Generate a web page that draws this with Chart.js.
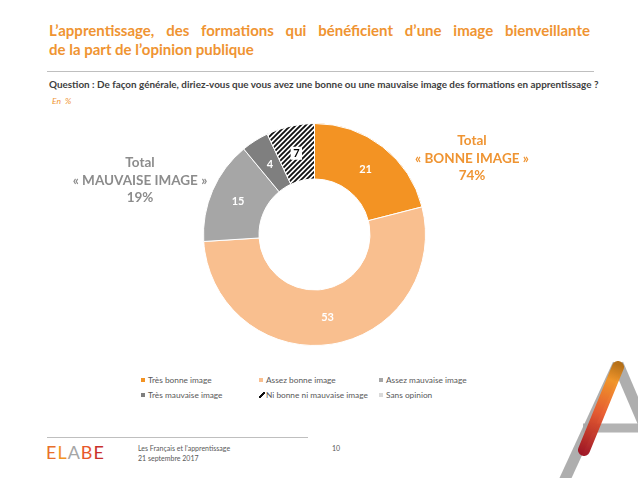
<!DOCTYPE html>
<html><head><meta charset="utf-8">
<script src="https://cdn.jsdelivr.net/npm/chart.js@4"></script>
<style>
html,body{margin:0;padding:0;background:#fff;}
body{width:638px;height:478px;position:relative;overflow:hidden;font-family:Lato,"Open Sans",sans-serif;}
.abs{position:absolute;white-space:nowrap;}
#t1{left:49px;top:21px;width:541px;font-weight:bold;color:#EF9432;font-size:15px;line-height:19px;text-align:justify;text-align-last:justify;}
#t2{left:49px;top:40px;font-weight:bold;color:#EF9432;font-size:15px;line-height:19px;}
#rule1{left:47px;top:71px;width:547px;height:1px;background:#BFBFBF;}
#q{left:49px;top:78px;font-weight:bold;color:#404040;font-size:9.9px;line-height:12px;}
#en{left:52px;top:95px;font-style:italic;color:#EF9432;font-size:8.5px;line-height:12px;}
#chart{position:absolute;left:203px;top:123px;}
.tot{position:absolute;text-align:center;font-weight:bold;font-size:13.5px;line-height:17.5px;white-space:nowrap;transform:translateX(-50%);}
#totM{left:140px;top:154px;color:#8C8C8C;}
#totB{left:472px;top:132px;color:#EF9432;}
.leg{position:absolute;font-size:8.3px;color:#595959;line-height:12px;white-space:nowrap;}
.mk{position:absolute;width:4px;height:4px;}
#rule2{left:47px;top:437px;width:261px;height:1px;background:#BFBFBF;}
.foot{position:absolute;font-size:7px;color:#595959;line-height:9px;white-space:nowrap;}
#logo{left:46px;top:443px;font-size:18px;line-height:18px;font-weight:400;letter-spacing:1px;}
</style></head>
<body>
<div id="t1" class="abs">L’apprentissage, des formations qui bénéficient d’une image bienveillante</div>
<div id="t2" class="abs">de la part de l’opinion publique</div>
<div id="rule1" class="abs"></div>
<div id="q" class="abs">Question : De façon générale, diriez-vous que vous avez une bonne ou une mauvaise image des formations en apprentissage ?</div>
<div id="en" class="abs">En&nbsp; %</div>
<canvas id="chart" width="223" height="223"></canvas>
<div id="totM" class="tot"></div>
<div id="totB" class="tot"></div>
<div id="legend"></div>
<div id="rule2" class="abs"></div>
<div id="logo" class="abs"><span style="color:#E8702A">E</span><span style="color:#F39323">L</span><span style="color:#A6A6A6">A</span><span style="color:#E8582A">B</span><span style="color:#C9302C">E</span></div>
<div class="foot" style="left:138px;top:444px;">Les Français et l’apprentissage</div>
<div class="foot" style="left:138px;top:454px;">21 septembre 2017</div>
<div class="foot" style="left:332px;top:444px;">10</div>
<svg style="position:absolute;left:0;top:0" width="638" height="478">
  <defs>
    <linearGradient id="ag" x1="618" y1="362" x2="583" y2="453" gradientUnits="userSpaceOnUse">
      <stop offset="0" stop-color="#B0690E"/>
      <stop offset="0.2" stop-color="#F39323"/>
      <stop offset="0.55" stop-color="#E8582A"/>
      <stop offset="1" stop-color="#9E0F1E"/>
    </linearGradient>
  </defs>
  <line x1="618" y1="364" x2="672" y2="490" stroke="#A6A6A6" stroke-width="11" opacity="0.9"/>
  <line x1="583" y1="428" x2="640" y2="428" stroke="#A6A6A6" stroke-width="9" opacity="0.85"/>
  <line x1="618" y1="364" x2="560" y2="490" stroke="#A6A6A6" stroke-width="11" opacity="0.9"/>
  <line x1="618" y1="367" x2="584" y2="450" stroke="url(#ag)" stroke-width="12" stroke-linecap="round" opacity="0.95"/>
</svg>
<script>
// ---- data ----
const categories = ['Très bonne image','Assez bonne image','Assez mauvaise image','Très mauvaise image','Ni bonne ni mauvaise image','Sans opinion'];
const values = [21, 53, 15, 4, 7, 0];
const bonneIdx = [0, 1];
const mauvaiseIdx = [2, 3];
const totalBonneLabels = ['Total', '« BONNE IMAGE »'];
const totalMauvaiseLabels = ['Total', '« MAUVAISE IMAGE »'];

// ---- styles ----
const colors = ['#F39323', '#F9BF8F', '#A6A6A6', '#7F7F7F', null, '#D9D9D9'];

function hatch() {
  const s = 5;
  const c = document.createElement('canvas');
  c.width = s; c.height = s;
  const x = c.getContext('2d');
  x.fillStyle = '#fff'; x.fillRect(0, 0, s, s);
  x.strokeStyle = '#111'; x.lineWidth = 1.9;
  x.beginPath();
  x.moveTo(-1, s + 1); x.lineTo(s + 1, -1);
  x.moveTo(-1, 1); x.lineTo(1, -1);
  x.moveTo(s - 1, s + 1); x.lineTo(s + 1, s - 1);
  x.stroke();
  return x.createPattern(c, 'repeat');
}
const ctx = document.getElementById('chart').getContext('2d');
const fills = colors.map(c => c === null ? hatch() : c);

const sum = idx => idx.reduce((a, i) => a + values[i], 0);
document.getElementById('totB').innerHTML = totalBonneLabels.join('<br>') + '<br>' + sum(bonneIdx) + '%';
document.getElementById('totM').innerHTML = totalMauvaiseLabels.join('<br>') + '<br>' + sum(mauvaiseIdx) + '%';

// legend (HTML, 3 columns)
const legX = [141, 259, 379];
const legY = [374, 389];
const leg = document.getElementById('legend');
categories.forEach((cat, i) => {
  const col = i % 3, row = Math.floor(i / 3);
  const mk = document.createElement('div');
  mk.className = 'mk';
  mk.style.left = legX[col] + 'px';
  mk.style.top = (legY[row] + 4) + 'px';
  if (colors[i] === null) {
    mk.style.width = '6px'; mk.style.height = '6px'; mk.style.top = (legY[row] + 3) + 'px';
    mk.style.background = 'linear-gradient(135deg, transparent 40%, #111 40%, #111 62%, transparent 62%)';
  } else {
    mk.style.background = colors[i];
  }
  leg.appendChild(mk);
  const t = document.createElement('div');
  t.className = 'leg';
  t.style.left = (legX[col] + 7) + 'px';
  t.style.top = legY[row] + 'px';
  t.textContent = cat;
  leg.appendChild(t);
});

const labelPlugin = {
  id: 'sliceLabels',
  afterDatasetsDraw(chart) {
    const c = chart.ctx;
    const meta = chart.getDatasetMeta(0);
    c.save();
    c.font = 'bold 11px Lato, "Open Sans", sans-serif';
    c.textAlign = 'center';
    c.textBaseline = 'middle';
    meta.data.forEach((arc, i) => {
      const v = chart.data.datasets[0].data[i];
      if (!v) return;
      const p = arc.tooltipPosition();
      const txt = String(v);
      if (colors[i] === null) {
        const w = c.measureText(txt).width + 5;
        c.fillStyle = '#fff';
        c.fillRect(p.x - w / 2, p.y - 6.5, w, 13);
        c.fillStyle = '#000';
      } else {
        c.fillStyle = '#fff';
      }
      c.fillText(txt, p.x, p.y + 0.5);
    });
    c.restore();
  }
};

new Chart(ctx, {
  type: 'doughnut',
  data: {
    labels: categories,
    datasets: [{ data: values, backgroundColor: fills, borderColor: '#fff', borderWidth: 1 }]
  },
  options: {
    responsive: false,
    maintainAspectRatio: false,
    animation: false,
    cutout: '50%',
    layout: { padding: 0 },
    plugins: { legend: { display: false }, tooltip: { enabled: false } }
  },
  plugins: [labelPlugin]
});
</script>
</body></html>
